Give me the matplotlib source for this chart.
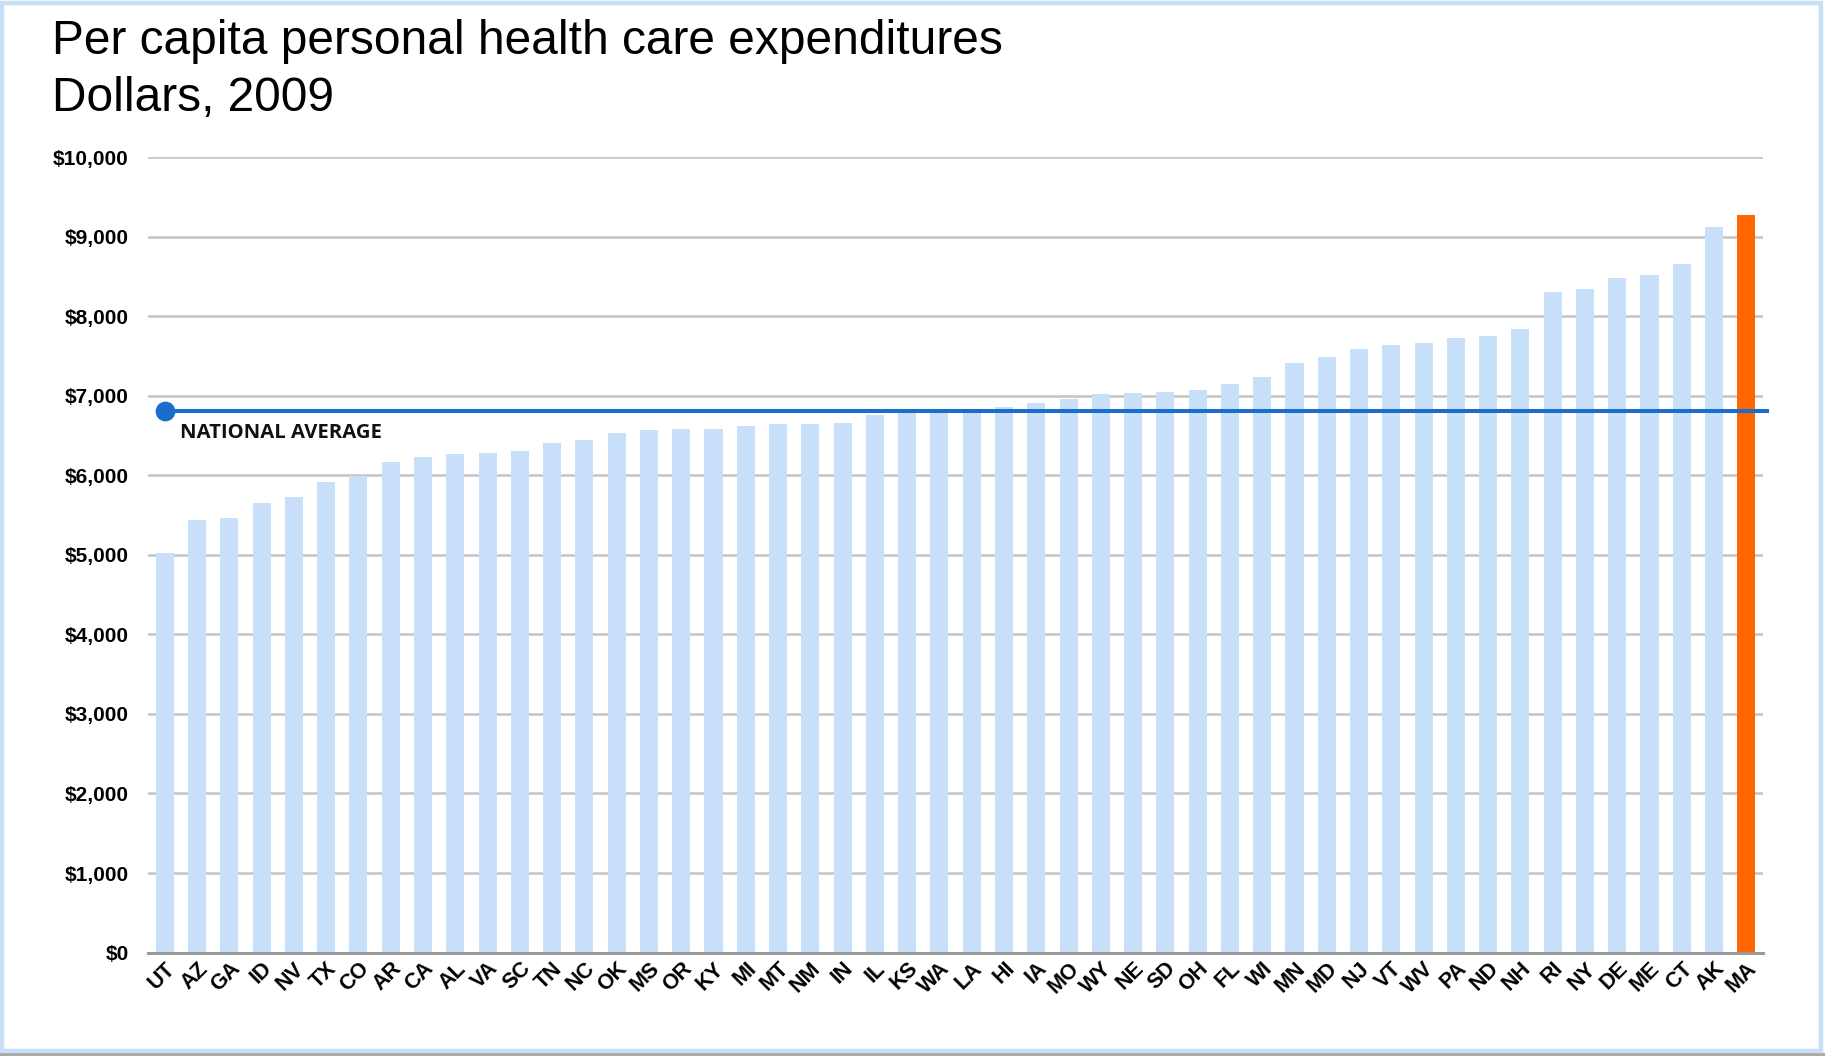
import matplotlib.pyplot as plt
from matplotlib.patches import Rectangle

# Data: per capita personal health care spending by state, 2009
states = ['UT', 'AZ', 'GA', 'ID', 'NV', 'TX', 'CO', 'AR', 'CA', 'AL',
          'VA', 'SC', 'TN', 'NC', 'OK', 'MS', 'OR', 'KY', 'MI', 'MT',
          'NM', 'IN', 'IL', 'KS', 'WA', 'LA', 'HI', 'IA', 'MO', 'WY',
          'NE', 'SD', 'OH', 'FL', 'WI', 'MN', 'MD', 'NJ', 'VT', 'WV',
          'PA', 'ND', 'NH', 'RI', 'NY', 'DE', 'ME', 'CT', 'AK', 'MA']
spending = [5031, 5434, 5467, 5658, 5735, 5924, 5994, 6167, 6238, 6272,
            6286, 6314, 6403, 6452, 6532, 6571, 6580, 6587, 6618, 6646,
            6651, 6665, 6756, 6781, 6782, 6795, 6856, 6906, 6958, 7030,
            7039, 7056, 7076, 7156, 7233, 7409, 7492, 7587, 7635, 7667,
            7730, 7749, 7839, 8309, 8341, 8480, 8521, 8654, 9128, 9278]
national_avg = 6815
highlight = 'MA'

yticks = list(range(0, 10001, 1000))
ytick_labels = ['${:,}'.format(v) for v in yticks]

# Figure
fig = plt.figure(figsize=(18.25, 10.56), dpi=100)
ax = fig.add_axes([0.0811, 0.098, 0.885, 0.7529])

colors = ['#ff6600' if s == highlight else '#c8e0f9' for s in states]
x = list(range(len(states)))
ax.bar(x, spending, width=0.56, color=colors, zorder=2)

# National average line with dot at the left end
ax.plot([0, len(states) - 0.35], [national_avg, national_avg], color='#1a6dcc',
        lw=2.9, zorder=4, clip_on=False)
ax.plot([0], [national_avg], 'o', color='#1a6dcc', markersize=13.2, zorder=5)
ax.text(0.47, national_avg - 150, 'NATIONAL AVERAGE', fontsize=14.6,
        fontweight='bold', family=['Open Sans', 'DejaVu Sans'],
        ha='left', va='top', color='#111111', zorder=5)

ax.set_xlim(-0.52, len(states) - 0.48)
ax.set_ylim(0, 10000)
ax.set_yticks(yticks)
ax.set_yticklabels(ytick_labels, fontsize=15, fontweight='bold',
                   family='Liberation Sans')
ax.tick_params(axis='y', length=0, pad=14)
ax.set_xticks(x)
ax.set_xticklabels(states, rotation=45, ha='right', va='top',
                   rotation_mode='anchor', fontsize=15.5, fontweight='bold',
                   family='Liberation Sans')
ax.tick_params(axis='x', length=0, pad=4)

ax.grid(axis='y', color='#c4c4c4', lw=1.8, zorder=1)
for side in ['top', 'right', 'left']:
    ax.spines[side].set_visible(False)
ax.spines['bottom'].set_color('#9a9a9a')
ax.spines['bottom'].set_linewidth(2.2)
ax.spines['bottom'].set_zorder(3)

# Title
fig.text(0.0285, 0.949, 'Per capita personal health care expenditures',
         fontsize=34.5, family='Liberation Sans', ha='left', va='baseline')
fig.text(0.0285, 0.895, 'Dollars, 2009',
         fontsize=34.5, family='Liberation Sans', ha='left', va='baseline')

# Light blue frame with a grey shadow at the bottom
fig.patches.append(Rectangle((0, 0), 1, 0.003, transform=fig.transFigure,
                             color='#a8a8a8', zorder=0))
fig.patches.append(Rectangle((0.001, 0.0045), 0.997, 0.993,
                             transform=fig.transFigure, fill=False,
                             edgecolor='#c9dff8', lw=3.2, zorder=0))

fig.savefig('out.png', dpi=100)
